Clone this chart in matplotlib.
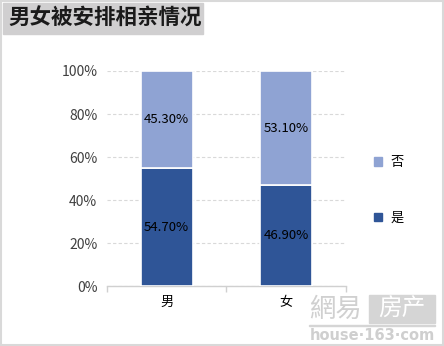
import matplotlib.pyplot as plt
from matplotlib.patches import Rectangle, Patch
import numpy as np

plt.rcParams['font.family'] = ['Noto Sans CJK SC', 'DejaVu Sans']

categories = ['男', '女']
yes_vals = [54.70, 46.90]
no_vals = [45.30, 53.10]
series_names = ['是', '否']
y_ticks = [0, 20, 40, 60, 80, 100]

dark = '#2F5597'
light = '#8FA3D3'

fig = plt.figure(figsize=(4.44, 3.46), dpi=100)
ax = fig.add_axes([0.241, 0.1734, 0.538, 0.6214])

x = np.arange(len(categories))
w = 0.435
ax.bar(x, yes_vals, w, color=dark, edgecolor='white', linewidth=1.2, zorder=3)
ax.bar(x, no_vals, w, bottom=yes_vals, color=light, edgecolor='white', linewidth=1.2, zorder=3)

for i in range(len(categories)):
    ax.text(x[i], yes_vals[i] / 2, f'{yes_vals[i]:.2f}%', ha='center', va='center',
            fontsize=9.5, color='black', zorder=4)
    ax.text(x[i], yes_vals[i] + no_vals[i] / 2, f'{no_vals[i]:.2f}%', ha='center', va='center',
            fontsize=9.5, color='black', zorder=4)

ax.set_xlim(-0.5, len(categories) - 0.5)
ax.set_ylim(0, 100)
ax.set_yticks(y_ticks)
ax.set_yticklabels([f'{t}%' for t in y_ticks], fontsize=10, color='#404040')
ax.set_xticks(x)
ax.set_xticklabels(categories, fontsize=9.5, color='black')
ax.tick_params(axis='y', length=0, pad=7)
ax.tick_params(axis='x', length=0, pad=7)
# category boundary ticks on the bottom axis
ax.set_xticks([-0.5, 0.5, 1.5], minor=True)
ax.tick_params(axis='x', which='minor', length=4, color='#d0d0d0', width=1)

ax.grid(axis='y', color='#d9d9d9', linestyle=(0, (3, 2)), linewidth=0.8, zorder=0)
for s in ['top', 'right', 'left']:
    ax.spines[s].set_visible(False)
ax.spines['bottom'].set_color('#d0d0d0')
ax.spines['bottom'].set_linewidth(1)

handles = [Patch(color=light), Patch(color=dark)]
fig.legend(handles, [series_names[1], series_names[0]], loc='center left',
           bbox_to_anchor=(0.815, 0.45), frameon=False, fontsize=9.5,
           handlelength=0.6, handleheight=0.6, handletextpad=0.7, labelspacing=3.2)

# title box
fig.patches.append(Rectangle((3 / 444, 1 - 34 / 346), 200 / 444, 31 / 346,
                             transform=fig.transFigure, color='#d0cfd0', zorder=0))
fig.text(8 / 444, 1 - 18 / 346, '男女被安排相亲情况', fontsize=15.5, fontweight='bold',
         color='#1a1a1a', va='center', ha='left')

# outer border
fig.patches.append(Rectangle((0.002, 0.003), 0.995, 0.994, transform=fig.transFigure,
                             fill=False, edgecolor='#d9d9d9', linewidth=1.5))

# watermark
fig.text(309 / 444, 1 - 309 / 346, '網易', fontsize=19, color='#d0d0d0', va='center', ha='left')
fig.patches.append(Rectangle((369 / 444, 1 - 323 / 346), 66 / 444, 28 / 346,
                             transform=fig.transFigure, color='#d5d5d5', zorder=0))
fig.text(402 / 444, 1 - 309 / 346, '房产', fontsize=17, color='white', va='center', ha='center')
fig.patches.append(Rectangle((309 / 444, 1 - 326 / 346), 126 / 444, 1.2 / 346,
                             transform=fig.transFigure, color='#d5d5d5', zorder=0))
fig.text(372 / 444, 1 - 335 / 346, 'house·163·com', fontsize=10.5, fontweight='bold',
         color='#cfcfcf', va='center', ha='center', family='DejaVu Sans')

fig.savefig('out.png', dpi=100)
